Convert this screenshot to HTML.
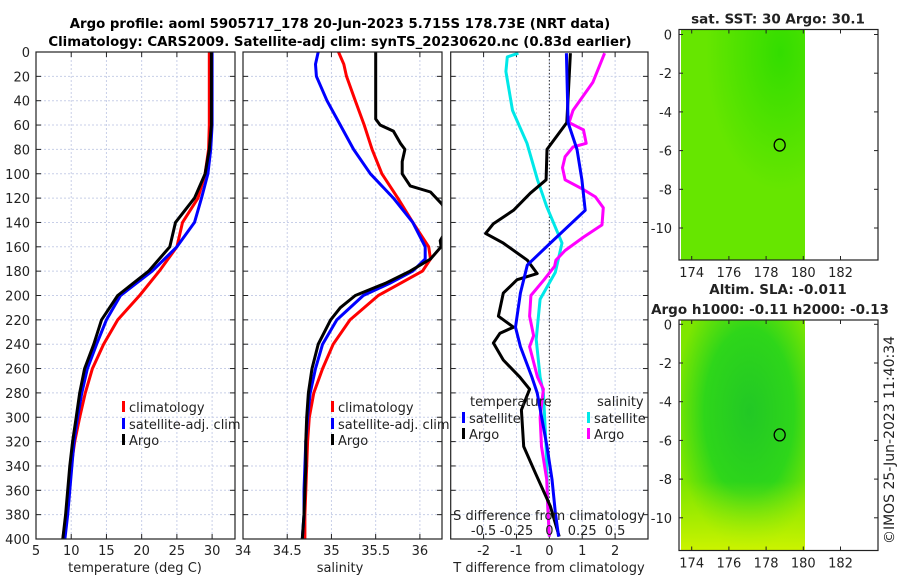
<!DOCTYPE html>
<html><head><meta charset="utf-8"><style>
body{margin:0;background:#fff}
svg{display:block;font-family:"DejaVu Sans","Liberation Sans",sans-serif}
</style></head><body>
<svg id="c" width="900" height="580" viewBox="0 0 900 580">
<text x="340" y="28" text-anchor="middle" font-size="13.3" font-weight="bold">Argo profile: aoml 5905717_178 20-Jun-2023 5.715S 178.73E (NRT data)</text>
<text x="340" y="46" text-anchor="middle" font-size="13.3" font-weight="bold">Climatology: CARS2009. Satellite-adj clim: synTS_20230620.nc (0.83d earlier)</text>
<defs>
<radialGradient id="g1" cx="0.8" cy="0.1" r="0.6"><stop offset="0" stop-color="#33dd00"/><stop offset="1" stop-color="#66e600"/></radialGradient>
<radialGradient id="g2" cx="0.55" cy="0.4" r="0.6"><stop offset="0" stop-color="#22c825"/><stop offset="0.6" stop-color="#2ed61a"/><stop offset="1" stop-color="#7ee600"/></radialGradient>
<linearGradient id="g2b" x1="0" y1="0" x2="0" y2="1"><stop offset="0.7" stop-color="#c8f000" stop-opacity="0"/><stop offset="1" stop-color="#d4f500" stop-opacity="0.9"/></linearGradient>
</defs>
<g id="plots"></g>
<text transform="translate(894,440) rotate(-90)" text-anchor="middle" font-size="14" fill="#222">©IMOS 25-Jun-2023 11:40:34</text>
</svg>
<script>
// depth levels (m)
const depthTicks=[0,20,40,60,80,100,120,140,160,180,200,220,240,260,280,300,320,340,360,380,400];
const tDepth=[0,20,40,60,80,100,120,140,160,180,200,220,240,260,280,300,320,340,360,380,400];
const tClim=[29.6,29.6,29.6,29.6,29.5,29.0,28.0,25.8,25.0,22.5,19.7,16.6,14.6,13.0,12.0,11.2,10.5,10.0,9.6,9.3,8.8];
const tSat=[30.0,30.0,30.0,30.0,29.8,29.4,28.5,27.5,25.0,21.5,17.0,15.0,13.6,12.3,11.5,10.9,10.4,10.1,9.8,9.5,9.1];
const tArgo=[29.9,29.9,29.9,29.9,29.6,29.0,27.5,24.8,24.0,21.0,16.6,14.3,13.2,11.9,11.2,10.7,10.2,9.8,9.5,9.2,8.8];
const sDepth=[0,10,20,40,60,80,100,120,140,160,170,180,190,200,220,240,260,280,300,320,340,360,380,400];
const sClim=[35.08,35.14,35.17,35.27,35.37,35.46,35.57,35.75,35.92,36.10,36.12,36.03,35.78,35.53,35.21,35.02,34.90,34.80,34.75,34.73,34.72,34.71,34.70,34.70];
const sSat=[34.85,34.82,34.83,34.95,35.10,35.25,35.44,35.70,35.92,36.06,36.06,35.92,35.66,35.36,35.06,34.90,34.82,34.76,34.73,34.71,34.70,34.69,34.69,34.67];
const aDepth=[0,55,60,65,75,80,90,100,110,115,125,140,155,160,170,180,190,200,210,220,240,260,280,300,320,340,360,380,400];
const sArgo=[35.5,35.5,35.55,35.7,35.78,35.83,35.80,35.80,35.89,36.12,36.25,36.35,36.23,36.24,36.12,35.89,35.61,35.27,35.10,34.99,34.85,34.78,34.74,34.72,34.71,34.71,34.70,34.69,34.67];
const dtDepth=[1,58,80,105,116,130,141,149,157,171,182,187,198,217,226,231,239,253,267,277,294,324,346,373,398];
const dtArgo=[0.64,0.53,-0.07,-0.1,-0.58,-1.09,-1.7,-1.94,-1.4,-0.67,-0.37,-0.98,-1.4,-1.55,-1.09,-1.5,-1.7,-1.4,-0.9,-0.6,-0.85,-0.78,-0.42,0.03,0.3];
const dtSatDepth=[1,58,80,105,130,157,175,198,226,242,267,280,324,351,378,398];
const dtSat=[0.52,0.57,0.84,0.99,1.09,0.03,-0.67,-0.88,-1.03,-0.88,-0.53,-0.37,-0.07,0.08,0.18,0.28];
const dsSatDepth=[1,4,16,48,75,105,127,157,181,203,236,267,280,324,378,398];
const dsSat=[-0.235,-0.32,-0.33,-0.28,-0.17,-0.09,-0.02,0.096,0.045,-0.07,-0.1,-0.07,-0.045,-0.025,-0.01,0];
const dsArgoDepth=[1,25,48,58,64,75,78,86,95,105,113,119,128,142,152,163,171,176,187,200,217,233,242,267,277,300,324,351,378,398];
const dsArgo=[0.42,0.33,0.18,0.15,0.26,0.28,0.18,0.12,0.10,0.12,0.26,0.35,0.41,0.40,0.26,0.12,0.05,0.04,-0.04,-0.14,-0.15,-0.12,-0.15,-0.09,-0.045,-0.07,-0.06,-0.02,-0.01,0];
const tTicks=[5,10,15,20,25,30];
const sTicks=[34,34.5,35,35.5,36];
const dTTicks=[-2,-1,0,1,2];
const dSTickLabels=["-0.5","-0.25","0","0.25","0.5"];
const dSTicks=[-0.5,-0.25,0,0.25,0.5];
const lonTicks=[174,176,178,180,182];
const latTicks=[0,-2,-4,-6,-8,-10];
const argoLon=178.73, argoLat=-5.715;

const NS="http://www.w3.org/2000/svg";
const G=document.getElementById('plots');
function mk(tag,attrs,parent){const e=document.createElementNS(NS,tag);for(const k in attrs)e.setAttribute(k,attrs[k]);(parent||G).appendChild(e);return e;}
const Y0=52,Y1=539;
const yD=d=>Y0+(d/400)*(Y1-Y0);
function lin(d0,d1,p0,p1){return v=>p0+(v-d0)/(d1-d0)*(p1-p0);}

function panel(x0,x1,xs,xt,labels,name,ylab){
  const g=mk('g',{});
  
  
  xt.forEach(v=>{const x=xs(v);const l=mk('line',{x1:x,x2:x,y1:Y0,y2:Y1,stroke:'#c8cfe8','stroke-dasharray':'2,2','stroke-width':1},g);
    
    mk('line',{x1:x,x2:x,y1:Y0,y2:Y0+5,stroke:'#222'},g);mk('line',{x1:x,x2:x,y1:Y1,y2:Y1-5,stroke:'#222'},g);});
  depthTicks.forEach(d=>{const y=yD(d);const l=mk('line',{x1:x0,x2:x1,y1:y,y2:y,stroke:'#c8cfe8','stroke-dasharray':'2,2'},g);
    
    mk('line',{x1:x0,x2:x0+5,y1:y,y2:y,stroke:'#222'},g);mk('line',{x1:x1,x2:x1-5,y1:y,y2:y,stroke:'#222'},g);
    if(ylab){const t=mk('text',{x:x0-6,y:y+5,'text-anchor':'end','font-size':13,fill:'#222'},g);t.textContent=d;
      }});
  if(labels) xt.forEach((v,i)=>{const t=mk('text',{x:xs(v),y:555,'text-anchor':'middle','font-size':13,fill:'#222'},g);t.textContent=labels[i];
    });
  return g;
}
function line(g,xs,vals,deps,color,name){
  const pts=vals.map((v,i)=>xs(v).toFixed(1)+','+yD(deps[i]).toFixed(1)).join(' ');
  const p=mk('polyline',{points:pts,fill:'none',stroke:color,'stroke-width':3,'stroke-linejoin':'round'},g);
  
}
function frame(g,x0,x1){const r=mk('rect',{x:x0,y:Y0,width:x1-x0,height:Y1-Y0,fill:'none',stroke:'#222','stroke-width':1.2},g);
  }
function txt(g,x,y,s,name,anchor,size){const t=mk('text',{x:x,y:y,'font-size':size||14,fill:'#222','text-anchor':anchor||'start'},g);t.textContent=s;
  return t;}
function legend(g,x,y,color,label,name){const r=mk('rect',{x:x,y:y-11,width:3,height:11,fill:color},g);
  txt(g,x+7,y,label,name+'-label',null,13);}

// Panel 1
const xT=lin(5,33.25,36,235);
const g1=panel(36,235,xT,tTicks,["5","10","15","20","25","30"],'temperature-panel',true);
line(g1,xT,tClim,tDepth,'#f00','temp-climatology-line');
line(g1,xT,tSat,tDepth,'#00f','temp-satellite-line');
line(g1,xT,tArgo,tDepth,'#000','temp-argo-line');
frame(g1,36,235);
legend(g1,122,412,'#f00','climatology','legend-climatology');
legend(g1,122,429,'#00f','satellite-adj. clim','legend-satellite');
legend(g1,122,445,'#000','Argo','legend-argo');
txt(g1,135,572,'temperature (deg C)','x-axis-title','middle',13);

// Panel 2
const xS=lin(34,36.25,243,442);
const g2=panel(243,442,xS,sTicks,["34","34.5","35","35.5","36"],'salinity-panel',false);
const cp=mk('clipPath',{id:'cp2'},g2);mk('rect',{x:243,y:Y0,width:199,height:Y1-Y0},cp);
const g2c=mk('g',{'clip-path':'url(#cp2)'},g2);
line(g2c,xS,sClim,sDepth,'#f00','sal-climatology-line');
line(g2c,xS,sSat,sDepth,'#00f','sal-satellite-line');
line(g2c,xS,sArgo,aDepth,'#000','sal-argo-line');
frame(g2,243,442);
legend(g2,331,412,'#f00','climatology','legend-climatology');
legend(g2,331,429,'#00f','satellite-adj. clim','legend-satellite');
legend(g2,331,445,'#000','Argo','legend-argo');
txt(g2,340,572,'salinity','x-axis-title','middle',13);

// Panel 3
const xDT=lin(-3,3,450.7,648);
const xDS=v=>xDT(v*4);
const g3=panel(450.7,648,xDT,dTTicks,null,'difference-panel',false);
const z=mk('line',{x1:xDT(0),x2:xDT(0),y1:Y0,y2:Y1,stroke:'#333','stroke-dasharray':'1.5,2'},g3);

line(g3,xDS,dsSat,dsSatDepth,'#00e8e8','sal-diff-satellite-line');
line(g3,xDS,dsArgo,dsArgoDepth,'#f0f','sal-diff-argo-line');
line(g3,xDT,dtArgo,dtDepth,'#000','temp-diff-argo-line');
line(g3,xDT,dtSat,dtSatDepth,'#00f','temp-diff-satellite-line');
frame(g3,450.7,648);
txt(g3,470,406,'temperature','legend-temperature-header',null,13);
txt(g3,597,406,'salinity','legend-salinity-header',null,13);
legend(g3,462,423,'#00f','satellite','legend-temp-satellite');
legend(g3,462,439,'#000','Argo','legend-temp-argo');
legend(g3,587,423,'#00e8e8','satellite','legend-sal-satellite');
legend(g3,587,439,'#f0f','Argo','legend-sal-argo');
txt(g3,549,520,'S difference from climatology','s-axis-title','middle',13);
dSTicks.forEach((v,i)=>txt(g3,xDS(v),535,dSTickLabels[i],'s-tick-label','middle',13));
dTTicks.forEach(v=>txt(g3,xDT(v),555,String(v),'t-tick-label','middle',13));
txt(g3,549,572,'T difference from climatology','t-axis-title','middle',13);

// Maps
function map(top,bot,lat0y,grad,extra,title1,title2,name){
  const g=mk('g',{});
  
  const xs=lin(174,176,691.7,728.9), ys=lin(0,-2,lat0y,lat0y+38.7);
  const f=mk('rect',{x:681,y:top,width:124,height:bot-top,fill:grad},g);
  
  if(extra){mk('rect',{x:681,y:top,width:124,height:bot-top,fill:extra},g);}
  const r=mk('rect',{x:679,y:top,width:199,height:bot-top,fill:'none',stroke:'#222','stroke-width':1.2},g);
  
  lonTicks.forEach(v=>{const x=xs(v);mk('line',{x1:x,x2:x,y1:bot,y2:bot-4,stroke:'#222'},g);mk('line',{x1:x,x2:x,y1:top,y2:top+4,stroke:'#222'},g);
    txt(g,x,bot+17,String(v),'lon-tick-label','middle',13);});
  latTicks.forEach(v=>{const y=ys(v);mk('line',{x1:679,x2:683,y1:y,y2:y,stroke:'#222'},g);mk('line',{x1:878,x2:874,y1:y,y2:y,stroke:'#222'},g);
    txt(g,672,y+5,String(v),'lat-tick-label','end',13);});
  const c=mk('ellipse',{cx:xs(argoLon),cy:ys(argoLat),rx:5.5,ry:6,fill:'none',stroke:'#000','stroke-width':1.3},g);
  
  txt(g,778,top-(title2?26:6),title1,'map-title','middle',13.5).setAttribute('font-weight','bold');
  if(title2) txt(g,770,top-6,title2,'map-title-2','middle',13.5).setAttribute('font-weight','bold');
}
map(29.5,260,34.5,'url(#g1)',null,'sat. SST: 30 Argo: 30.1',null,'sst-map');
map(320,550.5,324.3,'url(#g2)','url(#g2b)','Altim. SLA: -0.011','Argo h1000: -0.11 h2000: -0.13','sla-map');
</script>
</body></html>
